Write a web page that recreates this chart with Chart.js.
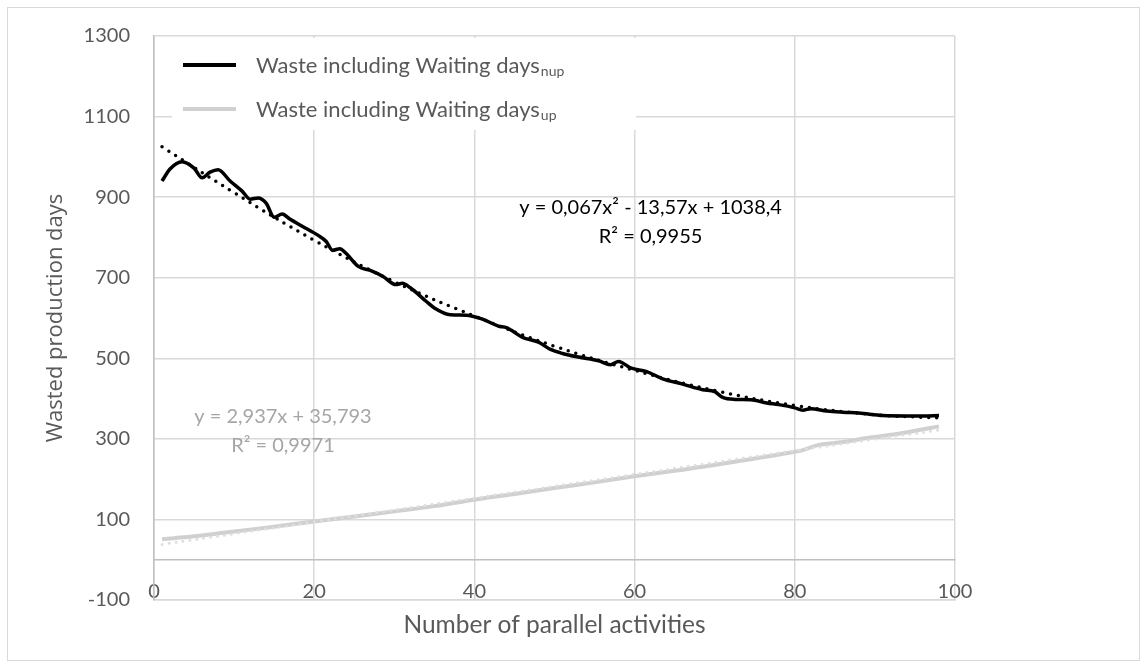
<!DOCTYPE html>
<html>
<head>
<meta charset="utf-8">
<script src="https://cdn.jsdelivr.net/npm/chart.js@4/dist/chart.umd.min.js"></script>
<style>
  body { margin: 0; background: #fff; }
  #wrap { position: relative; width: 1146px; height: 668px; }
  #frame { position: absolute; left: 7px; top: 7px; width: 1131px; height: 652px; border: 1px solid #d9d9d9; pointer-events: none; }
</style>
</head>
<body>
<div id="wrap">
  <canvas id="myChart" width="1146" height="668"></canvas>
  <div id="frame"></div>
</div>
<script>
// serie sin paralelismo (nup)
const nupX = [1, 2, 3.5, 5, 6, 7, 8, 9.5, 11, 12, 13, 14, 15, 16, 17, 18.5, 20.5, 21.5, 22.3, 23.2, 24, 25.5, 27, 28.6, 30.2, 31, 32, 34, 35, 37, 39, 41, 43, 44, 46, 48, 49.5, 51, 53, 55.5, 57, 58, 59.5, 61.5, 63.5, 66, 68.5, 70, 71, 72.5, 74.5, 76.5, 78, 80, 81, 82, 84, 86, 88, 91, 94, 96, 98];
const nupY = [940, 970, 988, 972, 948, 962, 968, 940, 915, 895, 898, 885, 850, 858, 845, 828, 805, 790, 768, 772, 760, 728, 718, 703, 683, 686, 675, 641, 625, 608, 607, 597, 580, 576, 552, 540, 522, 512, 503, 494, 484, 492, 476, 467, 449, 436, 422, 417, 403, 398, 397, 389, 385, 377, 371, 375, 369, 366, 364, 358, 357, 357, 358];

// serie con paralelismo (up)
const upX = [1, 5, 10, 15, 20, 25, 30, 35, 40, 45, 50, 55, 60, 65, 70, 75, 80, 81, 83, 86, 89, 92, 95, 98];
const upY = [51, 58, 70, 82, 95, 107, 120, 133, 149, 163, 178, 192, 207, 221, 235, 251, 268, 272, 285, 292, 302, 310, 320, 331];

// lineas de tendencia (punteadas)
const trendNupX = [1, 10, 20, 30, 40, 50, 60, 70, 80, 90, 98];
const trendNupY = [1025, 911, 793, 690, 605, 530, 470, 420, 383, 360, 352];
const trendUpX = [1, 20, 40, 60, 80, 98];
const trendUpY = [38, 94, 153, 212, 271, 322];

const legendLabels = ["Waste including Waiting days", "Waste including Waiting days"];
const legendSubs = ["nup", "up"];
const eqNup = ["y = 0,067x\u00b2 - 13,57x + 1038,4", "R\u00b2 = 0,9955"];
const eqUp = ["y = 2,937x + 35,793", "R\u00b2 = 0,9971"];

const xTitle = "Number of parallel activities";
const yTitle = "Wasted production days";

const toPts = (xs, ys) => xs.map((x, i) => ({ x: x, y: ys[i] }));

const tickColor = "#595959";
const gridColor = "#d9d9d9";

/* plugin: leyenda y ecuaciones */
const extras = {
  id: "extras",
  afterDatasetsDraw(chart) {
    const { ctx, chartArea, scales } = chart;
    ctx.save();
    // caja de leyenda
    const bx = chartArea.left + 18, by = chartArea.top + 2;
    ctx.fillStyle = "#fff";
    ctx.fillRect(bx, by, 464, 92);
    const colors = ["#000000", "#d0d0d0"];
    const rows = [by + 28, by + 72];
    rows.forEach((ry, i) => {
      ctx.strokeStyle = colors[i];
      ctx.lineWidth = 4;
      ctx.beginPath();
      ctx.moveTo(bx + 11, ry - 1);
      ctx.lineTo(bx + 64, ry - 1);
      ctx.stroke();
      ctx.fillStyle = tickColor;
      ctx.font = "22px Lato";
      ctx.textBaseline = "middle";
      ctx.textAlign = "left";
      ctx.fillText(legendLabels[i], bx + 84, ry);
      const w = ctx.measureText(legendLabels[i]).width;
      ctx.font = "14px Lato";
      ctx.fillText(legendSubs[i], bx + 85 + w, ry + 5);
    });

    // ecuaciones de tendencia
    ctx.textAlign = "center";
    ctx.textBaseline = "middle";
    ctx.font = "20px Lato";
    ctx.fillStyle = "#000";
    const ex = scales.x.getPixelForValue(62);
    ctx.fillText(eqNup[0], ex, scales.y.getPixelForValue(873));
    ctx.fillText(eqNup[1], ex, scales.y.getPixelForValue(801));
    ctx.fillStyle = "#a6a6a6";
    const gx = scales.x.getPixelForValue(16.1);
    ctx.fillText(eqUp[0], gx, scales.y.getPixelForValue(355));
    ctx.fillText(eqUp[1], gx, scales.y.getPixelForValue(283));
    ctx.restore();
  },
};

const config = {
  type: "scatter",
  data: {
    datasets: [
      {
        label: "trend up",
        data: toPts(trendUpX, trendUpY),
        showLine: true,
        borderColor: "#dedede",
        borderWidth: 3,
        borderDash: [0, 7],
        borderCapStyle: "round",
        tension: 0.4,
        pointRadius: 0,
      },
      {
        label: "up",
        data: toPts(upX, upY),
        showLine: true,
        borderColor: "#d0d0d0",
        borderWidth: 4,
        tension: 0.4,
        pointRadius: 0,
      },
      {
        label: "nup",
        data: toPts(nupX, nupY),
        showLine: true,
        borderColor: "#000",
        borderWidth: 3.5,
        cubicInterpolationMode: "monotone",
        pointRadius: 0,
      },
      {
        label: "trend nup",
        data: toPts(trendNupX, trendNupY),
        showLine: true,
        borderColor: "#000",
        borderWidth: 3.5,
        borderDash: [0, 8],
        borderCapStyle: "round",
        tension: 0.4,
        pointRadius: 0,
      },
    ],
  },
  options: {
    responsive: false,
    animation: false,
    devicePixelRatio: 1,
    layout: { padding: { left: 0, top: 36, right: 191, bottom: 0 } },
    plugins: { legend: { display: false }, tooltip: { enabled: false } },
    scales: {
      // eje x cruzando en y = 0 (como en Excel)
      x: {
        type: "linear",
        position: { y: 0 },
        min: 0,
        max: 100,
        ticks: { stepSize: 20, color: tickColor, font: { family: "Lato", size: 20 }, padding: 20, maxRotation: 0 },
        grid: { color: gridColor, lineWidth: 1.5, drawTicks: false },
        border: { color: "#bfbfbf", width: 1.5 },
      },
      // eje solo para el titulo
      xt: {
        type: "linear",
        position: "bottom",
        min: 0,
        max: 100,
        ticks: { display: false },
        grid: { display: false, drawTicks: false },
        border: { color: gridColor, width: 1.5 },
        title: { display: true, text: xTitle, color: tickColor, font: { family: "Lato", size: 24.5 }, padding: { top: 0, bottom: 28 } },
        afterFit: (s) => { s.height = 68; },
      },
      y: {
        min: -100,
        max: 1300,
        ticks: { stepSize: 200, color: tickColor, font: { family: "Lato", size: 20 }, padding: 24, callback: (v) => String(v) },
        grid: { color: gridColor, lineWidth: 1.5, drawTicks: false },
        border: { color: "#bfbfbf", width: 1.5 },
        title: { display: true, text: yTitle, color: tickColor, font: { family: "Open Sans", size: 22 }, padding: { top: 43, bottom: 0 } },
        afterFit: (s) => { s.width = 154; },
      },
    },
  },
  plugins: [extras],
};

var myChart = new Chart(document.getElementById("myChart"), config);
</script>
</body>
</html>
